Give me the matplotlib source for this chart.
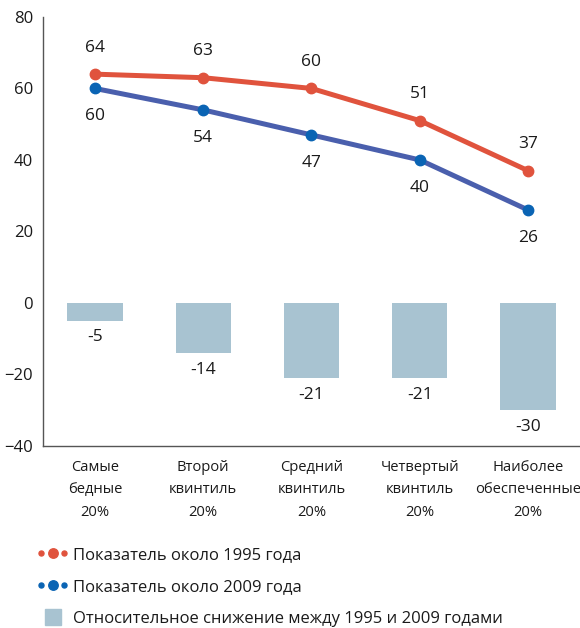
import matplotlib.pyplot as plt
from matplotlib.lines import Line2D
from matplotlib.legend_handler import HandlerLine2D, HandlerTuple

categories = ['Самые\nбедные\n20%', 'Второй\nквинтиль\n20%', 'Средний\nквинтиль\n20%',
              'Четвертый\nквинтиль\n20%', 'Наиболее\nобеспеченные\n20%']
values_1995 = [64, 63, 60, 51, 37]
values_2009 = [60, 54, 47, 40, 26]
decline = [-5, -14, -21, -21, -30]

red = '#e0533d'
blue_line = '#4a5fad'
blue_marker = '#0a64b4'
bar_color = '#a8c3d1'
text_color = '#1a1a1a'

plt.rcParams['font.family'] = ['Open Sans', 'DejaVu Sans']

fig = plt.figure(figsize=(5.8, 6.28), dpi=100)
ax = fig.add_axes([0.074, 0.29, 0.926, 0.683])

x = list(range(len(categories)))
ax.bar(x, decline, width=0.51, color=bar_color, zorder=1)
ax.plot(x, values_1995, color=red, lw=3.6, marker='o', ms=7.5, zorder=3)
ax.plot(x, values_2009, color=blue_line, lw=3.6, marker='o', ms=7.5,
        markerfacecolor=blue_marker, markeredgecolor=blue_marker, zorder=3)

# value labels: 1995 above, 2009 below, decline under the bars
for i in x:
    ax.annotate(str(values_1995[i]), (i, values_1995[i]), xytext=(0, 19),
                textcoords='offset points', ha='center', va='center', fontsize=12.5, color=text_color)
    ax.annotate(str(values_2009[i]), (i, values_2009[i]), xytext=(0, -20),
                textcoords='offset points', ha='center', va='center', fontsize=12.5, color=text_color)
    ax.annotate(str(decline[i]), (i, decline[i]), xytext=(0, -12),
                textcoords='offset points', ha='center', va='center', fontsize=12.5, color=text_color)

ax.set_xlim(-0.48, 4.48)
ax.set_ylim(-40, 80)
ax.set_yticks([-40, -20, 0, 20, 40, 60, 80])
ax.set_xticks(x)
ax.set_xticklabels(categories, fontsize=10.6, linespacing=1.7, color=text_color)
ax.tick_params(axis='y', length=0, pad=7, labelsize=12, labelcolor=text_color)
ax.tick_params(axis='x', length=0, pad=10)
for s in ['top', 'right']:
    ax.spines[s].set_visible(False)
for s in ['left', 'bottom']:
    ax.spines[s].set_color('#555555')
    ax.spines[s].set_linewidth(1)

# legend icons: small dot - big dot - small dot
def dot_icon(color):
    small = Line2D([0], [0], color=color, lw=0, marker='o', ms=3.6)
    big = Line2D([0], [0], color=color, lw=0, marker='o', ms=6.8)
    return small, big

red_small, red_big = dot_icon(red)
blue_small, blue_big = dot_icon(blue_marker)
square = Line2D([0], [0], color=bar_color, lw=0, marker='s', ms=12)

handles = [(red_small, red_big), (blue_small, blue_big), square]
labels = ['Показатель около 1995 года', 'Показатель около 2009 года',
          'Относительное снижение между 1995 и 2009 годами']
hmap = {
    red_small: HandlerLine2D(numpoints=2),
    blue_small: HandlerLine2D(numpoints=2),
    tuple: HandlerTuple(ndivide=1, pad=0),
}
fig.legend(handles, labels, handler_map=hmap, loc='upper left',
           bbox_to_anchor=(0.036, 0.153), frameon=False, fontsize=12,
           labelspacing=0.95, handlelength=2.0, handletextpad=0.25,
           labelcolor=text_color)

fig.savefig('out.png', dpi=100)
